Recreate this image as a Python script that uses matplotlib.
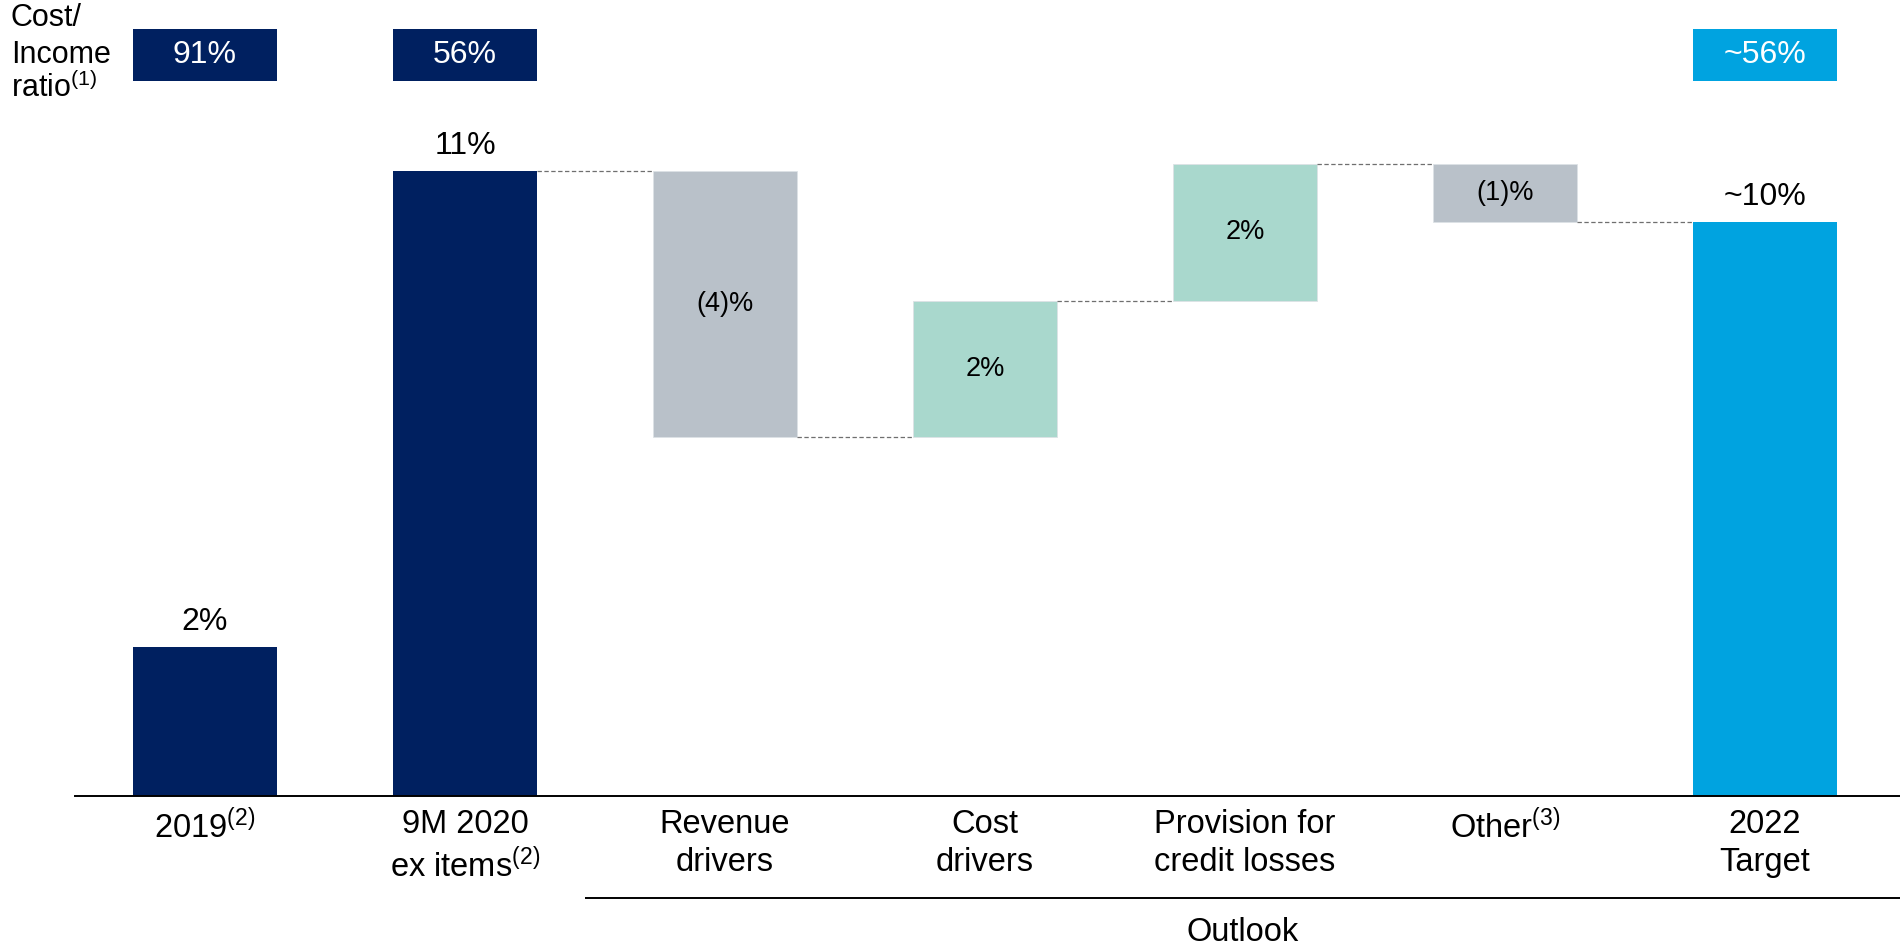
import numpy as np
import matplotlib
matplotlib.use("Agg")
import matplotlib.pyplot as plt
from matplotlib.patches import Rectangle
import matplotlib.transforms as mtransforms

plt.rcParams['font.family'] = ['Liberation Sans', 'DejaVu Sans']
plt.rcParams['mathtext.fontset'] = 'custom'
plt.rcParams['mathtext.rm'] = 'Liberation Sans'
plt.rcParams['mathtext.it'] = 'Liberation Sans:italic'
plt.rcParams['mathtext.bf'] = 'Liberation Sans:bold'

# ---------------- data ----------------
categories = ["2019$^{\\mathrm{(2)}}$",
              "9M 2020\nex items$^{\\mathrm{(2)}}$",
              "Revenue\ndrivers",
              "Cost\ndrivers",
              "Provision for\ncredit losses",
              "Other$^{\\mathrm{(3)}}$",
              "2022\nTarget"]
value_2019 = 2.24
value_9m2020 = 9.4
deltas = [-4.0, 2.05, 2.05, -0.87]          # revenue, cost, provisions, other
value_labels = ["2%", "11%", "(4)%", "2%", "2%", "(1)%", "~10%"]
cost_income = ["91%", "56%", "", "", "", "", "~56%"]

navy = "#002060"
cyan = "#00A3E0"
grey = "#B9C1C9"
teal = "#A9D8CD"
delta_colors = [grey, teal, teal, grey]

# ---------------- figure ----------------
W, H = 1900, 947
fig = plt.figure(figsize=(W / 100, H / 100), dpi=100)
base_px = 796
ax = fig.add_axes([75 / W, (H - base_px) / H, 1825 / W, base_px / H])
px_per_unit = 66.5
ax.set_ylim(0, base_px / px_per_unit)
ax.set_xlim(-0.5, (W - 205) / 260)

x = np.arange(len(categories))
w = 0.555

# totals
ax.bar(x[0], value_2019, width=w, color=navy)
ax.bar(x[1], value_9m2020, width=w, color=navy)
cum = value_9m2020 + np.cumsum(deltas)
prev = np.concatenate([[value_9m2020], cum[:-1]])
bottoms = np.minimum(prev, cum)
heights = np.abs(np.array(deltas))
ax.bar(x[2:6], heights, bottom=bottoms, width=w, color=delta_colors,
       edgecolor="#dde2e6", linewidth=0.6)
target = cum[-1]
ax.bar(x[6], target, width=w, color=cyan)

# connectors
levels = np.concatenate([[value_9m2020], cum])
for i in range(1, 6):
    ax.plot([x[i] + w / 2, x[i + 1] - w / 2], [levels[i - 1], levels[i - 1]],
            color="#6f6f6f", linewidth=0.9, dashes=(3.5, 2))

# labels above totals
tops = {0: value_2019, 1: value_9m2020, 6: target}
for i, t in tops.items():
    ax.annotate(value_labels[i], (x[i], t), xytext=(0, 18),
                textcoords="offset points", ha="center", va="center",
                fontsize=23, color="black")
# labels inside deltas
for j in range(4):
    ax.text(x[2 + j], bottoms[j] + heights[j] / 2, value_labels[2 + j],
            ha="center", va="center", fontsize=19.5, color="black")

# cost/income boxes
trans = mtransforms.blended_transform_factory(ax.transData, ax.transAxes)
y0 = (base_px - 81) / base_px
y1 = (base_px - 29) / base_px
for i, lab in enumerate(cost_income):
    if not lab:
        continue
    col = cyan if i == 6 else navy
    ax.add_patch(Rectangle((x[i] - w / 2, y0), w, y1 - y0, transform=trans,
                           facecolor=col, edgecolor="none", clip_on=False))
    ax.text(x[i], (y0 + y1) / 2, lab, transform=trans, ha="center",
            va="center", fontsize=23, color="white")

fig.text(11 / W, 1 - 18 / H, "Cost/", fontsize=22, va="center", ha="left")
fig.text(11 / W, 1 - 55 / H, "Income", fontsize=22, va="center", ha="left")
fig.text(11 / W, 1 - 88 / H, "ratio$^{\\mathrm{(1)}}$", fontsize=22,
         va="center", ha="left")

# axes styling
for s in ["top", "right", "left"]:
    ax.spines[s].set_visible(False)
ax.spines["bottom"].set_linewidth(1.4)
ax.spines["bottom"].set_color("black")
ax.set_yticks([])
ax.set_xticks(x)
ax.set_xticklabels(categories, fontsize=23.5, linespacing=1.27)
ax.tick_params(axis="x", length=0, pad=9.5)

# Outlook bracket
yl = (base_px - 898) / base_px
ax.plot([1.46, ax.get_xlim()[1]], [yl, yl], transform=trans, color="black",
        linewidth=1.4, clip_on=False, solid_capstyle="butt")
ax.text((1.46 + ax.get_xlim()[1]) / 2, (base_px - 932) / base_px, "Outlook",
        transform=trans, ha="center", va="center", fontsize=23.5)

fig.savefig("out.png", dpi=100)
